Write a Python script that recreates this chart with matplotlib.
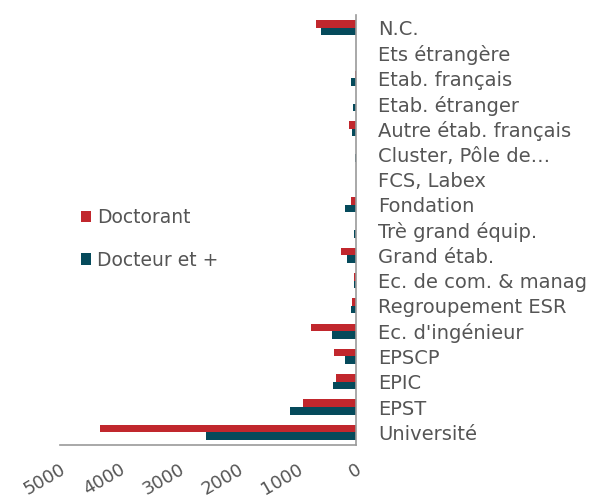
import numpy as np
import matplotlib
matplotlib.use("Agg")
import matplotlib.pyplot as plt

plt.rcParams["font.family"] = ["DejaVu Sans"]

categories = [
    "N.C.", "Ets étrangère", "Etab. français", "Etab. étranger",
    "Autre étab. français", "Cluster, Pôle de…", "FCS, Labex", "Fondation",
    "Trè grand équip.", "Grand étab.", "Ec. de com. & manag",
    "Regroupement ESR", "Ec. d'ingénieur", "EPSCP", "EPIC", "EPST",
    "Université",
]
doctorant = [676, 0, 15, 5, 113, 0, 5, 79, 5, 259, 39, 73, 755, 377, 338, 890, 4324]
docteur = [596, 0, 85, 45, 73, 17, 5, 180, 34, 152, 29, 85, 400, 191, 383, 1115, 2534]
xticks = [0, 1000, 2000, 3000, 4000, 5000]

red = "#c1272d"
teal = "#054a5b"
grey = "#555555"

fig = plt.figure(figsize=(6.07, 4.99), dpi=100)
ax = fig.add_axes([60 / 607, 54 / 499, 296 / 607, 430 / 499])

y = np.arange(len(categories))
h = 0.3
ax.barh(y - h / 2, doctorant, height=h, color=red, label="Doctorant")
ax.barh(y + h / 2, docteur, height=h, color=teal, label="Docteur et +")

ax.set_xlim(5000, 0)
ax.set_ylim(len(categories) - 0.5, -0.5)
ax.set_xticks(xticks)
ax.set_xticklabels([str(t) for t in xticks], rotation=30, ha="right",
                   rotation_mode="anchor", fontsize=13, color=grey)
ax.tick_params(axis="x", length=0, pad=11)

ax.yaxis.tick_right()
ax.set_yticks(y)
ax.set_yticklabels(categories, fontsize=14, color=grey)
ax.tick_params(axis="y", length=0, pad=16)

for s in ["top", "left"]:
    ax.spines[s].set_visible(False)
for s in ["bottom", "right"]:
    ax.spines[s].set_color("#999999")
    ax.spines[s].set_linewidth(1.2)

fig.legend(loc="center left", bbox_to_anchor=(64 / 607, 1 - 239 / 499),
           frameon=False, fontsize=13.5, handlelength=0.55, handleheight=0.55,
           labelspacing=1.25, handletextpad=0.3, labelcolor=grey)

fig.savefig("out.png", dpi=100)
